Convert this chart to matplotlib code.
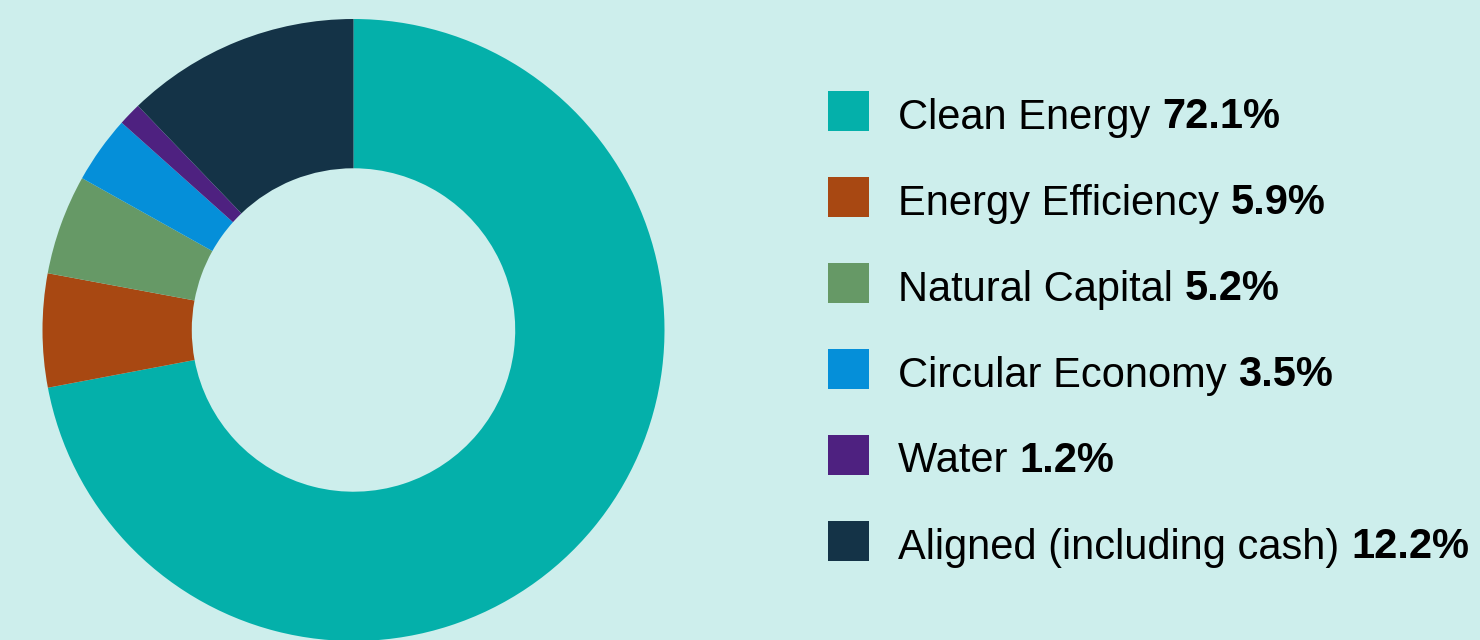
import matplotlib
matplotlib.use("Agg")
import matplotlib.pyplot as plt
from matplotlib.patches import Rectangle

# Datos del gráfico de anillo
categorias = ["Clean Energy", "Energy Efficiency", "Natural Capital",
              "Circular Economy", "Water", "Aligned (including cash)"]
valores = [72.1, 5.9, 5.2, 3.5, 1.2, 12.2]
etiquetas = ["72.1%", "5.9%", "5.2%", "3.5%", "1.2%", "12.2%"]
colores = ["#04B0AA", "#A84812", "#669966", "#058FD9", "#4E2180", "#143347"]

fondo = "#CDEEEC"
W, H = 1480, 640

fig = plt.figure(figsize=(W / 100, H / 100), dpi=100, facecolor=fondo)

# Ejes del anillo: centro (353.5, 330) px, radio 311 px
cx, cy, r = 353.5, 330, 311
ax = fig.add_axes([(cx - r) / W, (H - cy - r) / H, 2 * r / W, 2 * r / H])
ax.set_facecolor(fondo)
ax.pie(valores, colors=colores, startangle=90, counterclock=False,
       radius=1, wedgeprops=dict(width=0.48, linewidth=0))
ax.set_xlim(-1, 1)
ax.set_ylim(-1, 1)
ax.set_aspect("equal")
ax.axis("off")

# Leyenda manual con porcentaje en negrita
renderer = fig.canvas.get_renderer()
fuente = ["Liberation Sans", "DejaVu Sans"]
y0, paso = 111, 86
for i, (cat, lab, col) in enumerate(zip(categorias, etiquetas, colores)):
    yc = y0 + i * paso
    fig.patches.append(Rectangle((828 / W, (H - yc - 20) / H), 41 / W, 40 / H,
                                 transform=fig.transFigure, facecolor=col,
                                 edgecolor="none"))
    t = fig.text(898 / W, (H - yc - 2) / H, cat + " ", fontsize=30,
                 family=fuente, va="center_baseline", color="black")
    bb = t.get_window_extent(renderer)
    fig.text(bb.x1 / W, (H - yc - 2) / H, lab, fontsize=30, family=fuente,
             fontweight="bold", va="center_baseline", color="black")

fig.savefig("out.png", dpi=100, facecolor=fondo)
